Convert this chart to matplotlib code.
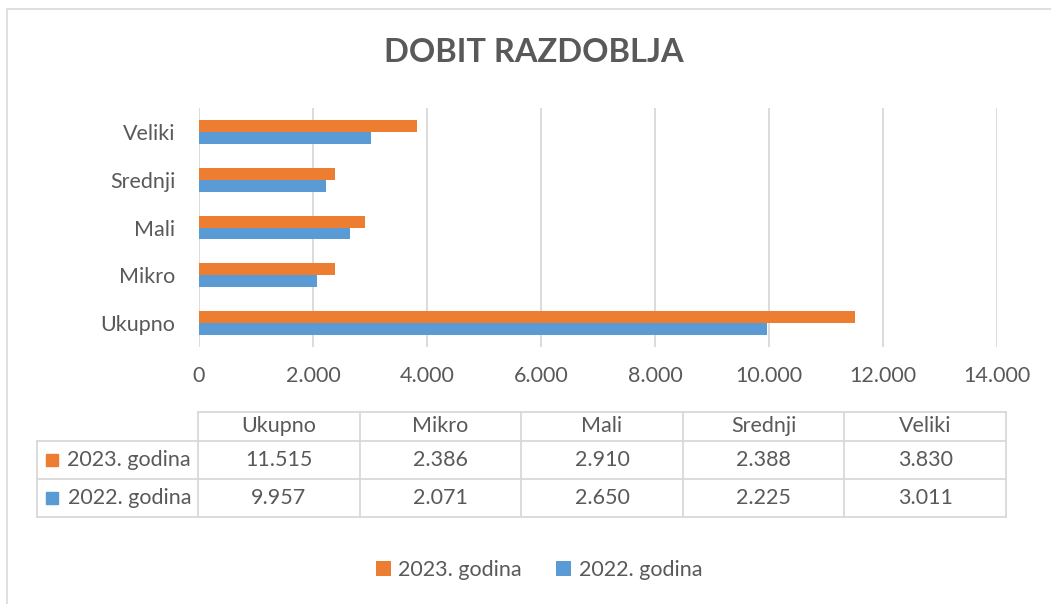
import matplotlib.pyplot as plt
import numpy as np
from matplotlib.patches import Rectangle
from matplotlib.ticker import FuncFormatter

# data
categories = ["Ukupno", "Mikro", "Mali", "Srednji", "Veliki"]
series_names = ["2023. godina", "2022. godina"]
val_2023 = [11515, 2386, 2910, 2388, 3830]
val_2022 = [9957, 2071, 2650, 2225, 3011]
x_ticks = [0, 2000, 4000, 6000, 8000, 10000, 12000, 14000]

ORANGE = "#ED7D31"
BLUE = "#5B9BD5"
TXT = "#595959"
GRID = "#D9D9D9"
FS = 15.5

plt.rcParams['font.family'] = ['Lato', 'DejaVu Sans']

def fmt(v):
    return f"{v:,.0f}".replace(",", ".")

W, H = 1051, 604
fig = plt.figure(figsize=(W / 100, H / 100), dpi=100)

# bar axes (pixel layout converted to figure fractions)
left, right, top, bottom = 199, 997, 108, 347
ax = fig.add_axes([left / W, 1 - bottom / H, (right - left) / W, (bottom - top) / H])
y = np.arange(len(categories))
h = 0.25
b23 = ax.barh(y + h / 2, val_2023, height=h, color=ORANGE, label=series_names[0], zorder=3)
b22 = ax.barh(y - h / 2, val_2022, height=h, color=BLUE, label=series_names[1], zorder=3)
ax.set_xlim(0, 14000)
ax.set_ylim(-0.5, len(categories) - 0.5)
ax.set_xticks(x_ticks)
ax.xaxis.set_major_formatter(FuncFormatter(lambda v, p: fmt(v)))
ax.set_yticks(y)
ax.set_yticklabels(categories)
ax.tick_params(axis='x', length=0, pad=14, labelsize=FS, labelcolor=TXT)
ax.tick_params(axis='y', length=0, pad=17, labelsize=FS, labelcolor=TXT)
ax.grid(axis='x', color=GRID, linewidth=1.3, zorder=0)
for s in ax.spines.values():
    s.set_visible(False)

fig.text(534 / W, 1 - 53 / H, "DOBIT RAZDOBLJA", fontsize=23.5, fontweight='bold',
         color=TXT, ha='center', va='center')

# overlay in pixel coords for table, border
ov = fig.add_axes([0, 0, 1, 1], zorder=-1)
ov.set_xlim(0, W)
ov.set_ylim(H, 0)
ov.axis('off')
ov.plot([7, 7, W], [H, 9, 9], color=GRID, linewidth=1.2)

col_edges = np.linspace(198, 1006, len(categories) + 1)
row_edges = [412, 441, 479, 517]
lw = 1.3
# header row
ov.plot([col_edges[0], col_edges[-1]], [row_edges[0]] * 2, color=GRID, lw=lw)
for x in col_edges:
    ov.plot([x, x], [row_edges[0], row_edges[-1]], color=GRID, lw=lw)
for yy in row_edges[1:]:
    ov.plot([37, col_edges[-1]], [yy, yy], color=GRID, lw=lw)
ov.plot([37, 37], [row_edges[1], row_edges[-1]], color=GRID, lw=lw)

for i, c in enumerate(categories):
    cx = (col_edges[i] + col_edges[i + 1]) / 2
    ov.text(cx, (row_edges[0] + row_edges[1]) / 2, c, ha='center', va='center',
            fontsize=FS, color=TXT)
for r, (name, vals, col) in enumerate([(series_names[0], val_2023, ORANGE),
                                        (series_names[1], val_2022, BLUE)]):
    cy = (row_edges[r + 1] + row_edges[r + 2]) / 2
    ov.add_patch(Rectangle((46, cy - 6), 12, 12, color=col))
    ov.text(191, cy, name, ha='right', va='center', fontsize=FS, color=TXT)
    for i, v in enumerate(vals):
        cx = (col_edges[i] + col_edges[i + 1]) / 2
        ov.text(cx, cy, fmt(v), ha='center', va='center', fontsize=FS, color=TXT)

fig.legend(handles=[b23, b22], loc='center', bbox_to_anchor=(539 / W, 1 - 570 / H),
           ncol=2, frameon=False, fontsize=FS, labelcolor=TXT,
           handlelength=0.7, handleheight=0.7, handletextpad=0.35, columnspacing=1.6)

fig.savefig("out.png", dpi=100, facecolor="white")
